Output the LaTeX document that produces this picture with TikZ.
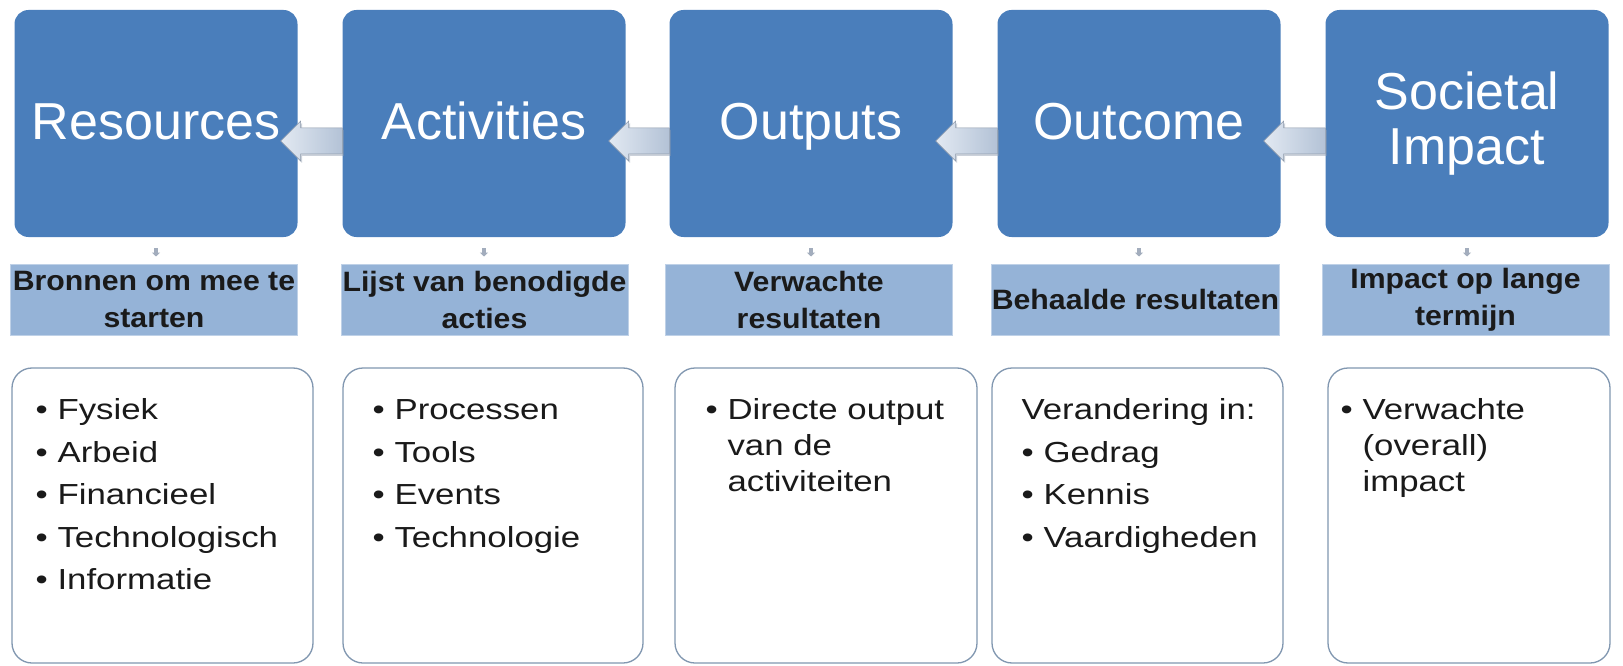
\documentclass[tikz,border=0pt]{standalone}
\usepackage{fontspec}
\setmainfont{Liberation Sans}
\newfontfamily\labelfont[FakeStretch=1.08]{Liberation Sans}
\newfontfamily\bodyfont[FakeStretch=1.2]{Liberation Sans}
\usetikzlibrary{calc,arrows.meta}
\definecolor{topblue}{HTML}{4A7EBB}
\definecolor{labblue}{HTML}{95B3D7}
\definecolor{cborder}{HTML}{8197B0}
\definecolor{arrL}{HTML}{E2E9F2}
\definecolor{arrR}{HTML}{B3C2D6}
\definecolor{arrS}{HTML}{8C9AAE}
\definecolor{smallg}{HTML}{A3ADBD}
\definecolor{txt}{HTML}{1A1A1A}
\newcommand\bul[1]{\makebox[22pt][l]{\textbullet}#1}
\newcommand\cont[1]{\hspace*{22pt}#1}
\newcommand\arrpath[3]{% name, dx, dy shift
  ($(#1tip)+(#2,#3)$) -- ($(#1tip)+(20+#2,-20+#3)$) -- ($(#1tip)+(20+#2,-13+#3)$) -- ($(#1tail)+(#2,-13+#3)$)
     -- ($(#1tail)+(#2,13+#3)$) -- ($(#1tip)+(20+#2,13+#3)$) -- ($(#1tip)+(20+#2,20+#3)$) -- cycle}
\newcommand\bigarr[2]{%
  \coordinate (#1tail) at ($(#1.west)+(0,17.5)$);
  \coordinate (#1tip) at ($(#2.east)+(-17,17.5)$);
  \fill[arrS, opacity=0.45] \arrpath{#1}{1.5}{2};
  \path[bigarrow] \arrpath{#1}{0}{0};}
\begin{document}
\begin{tikzpicture}[x=1pt,y=-1pt,
  topbox/.style={fill=topblue, rounded corners=14pt, minimum width=283pt, minimum height=227pt,
     inner sep=0pt, text=white, font=\fontsize{52}{55}\selectfont, align=center},
  oneline/.style={text height=41pt, text depth=8pt},
  labbox/.style={fill=labblue, draw=labblue!60, line width=1pt, minimum width=287pt, minimum height=71pt,
     inner sep=0pt, font=\labelfont\bfseries\fontsize{28}{37}\selectfont, align=center, text=txt},
  contbox/.style={draw=cborder, line width=1.3pt, fill=white, rounded corners=20pt, inner sep=0pt,
     minimum height=295pt},
  conttext/.style={anchor=north west, inner sep=0pt, align=left,
     font=\bodyfont\fontsize{29}{36}\selectfont, text=txt},
  bigarrow/.style={left color=arrL, right color=arrR, draw=arrR!80!black, line width=0.5pt},
  smallarrow/.style={draw=smallg, line width=3.5pt, -{Triangle[width=8pt,length=4pt]}}
]
\useasboundingbox (0,0) rectangle (1623,666);
\fill[white] (0,0) rectangle (1623,666);

% content boxes
\node[contbox, minimum width=301pt] (c1) at (162.5,515.5) {};
\node[contbox, minimum width=300pt] (c2) at (493,515.5) {};
\node[contbox, minimum width=302pt] (c3) at (826,515.5) {};
\node[contbox, minimum width=291pt] (c4) at (1137.5,515.5) {};
\node[contbox, minimum width=282pt] (c5) at (1469,515.5) {};

\node[conttext] (c1t) at ($(c1.north west)+(24,26)$) {\rule{0pt}{26pt}\bul{Fysiek}\\[6.5pt]\bul{Arbeid}\\[6.5pt]\bul{Financieel}\\[6.5pt]\bul{Technologisch}\\[6.5pt]\bul{Informatie}};
\node[conttext] (c2t) at ($(c2.north west)+(30,26)$) {\rule{0pt}{26pt}\bul{Processen}\\[6.5pt]\bul{Tools}\\[6.5pt]\bul{Events}\\[6.5pt]\bul{Technologie}};
\node[conttext] (c3t) at ($(c3.north west)+(31,26)$) {\rule{0pt}{26pt}\bul{Directe output}\\\cont{van de}\\\cont{activiteiten}};
\node[conttext] (c4t) at ($(c4.north west)+(30,26)$) {\rule{0pt}{26pt}Verandering in:\\[6.5pt]\bul{Gedrag}\\[6.5pt]\bul{Kennis}\\[6.5pt]\bul{Vaardigheden}};
\node[conttext] (c5t) at ($(c5.north west)+(13,26)$) {\rule{0pt}{26pt}\bul{Verwachte}\\\cont{(overall)}\\\cont{impact}};

% label boxes
\node[labbox] (l1) at (154,299.5) {Bronnen om mee te\\starten};
\node[labbox] (l2) at (484.5,299.5) {Lijst van benodigde\\acties};
\node[labbox] (l3) at (809,299.5) {Verwachte\\resultaten};
\node[labbox] (l4) at (1135.5,299.5) {Behaalde resultaten};
\node[labbox] (l5) at (1465.5,299.5) {Impact op lange\\termijn};

% top boxes
\node[topbox, oneline] (t1) at (156,123.5) {Resources};
\node[topbox, oneline] (t2) at (484,123.5) {Activities};
\node[topbox, oneline] (t3) at (811,123.5) {Outputs};
\node[topbox, oneline] (t4) at (1139,123.5) {Outcome};
\node[topbox] (t5) at (1467,123.5) {Societal\\Impact};

% big arrows
\bigarr{t2}{t1}
\bigarr{t3}{t2}
\bigarr{t4}{t3}
\bigarr{t5}{t4}

% small arrows
\foreach \i in {1,...,5}{
  \draw[smallarrow, shorten <=11pt, shorten >=7pt] (t\i.south) -- (t\i.south |- l\i.north);
}
\end{tikzpicture}
\end{document}
